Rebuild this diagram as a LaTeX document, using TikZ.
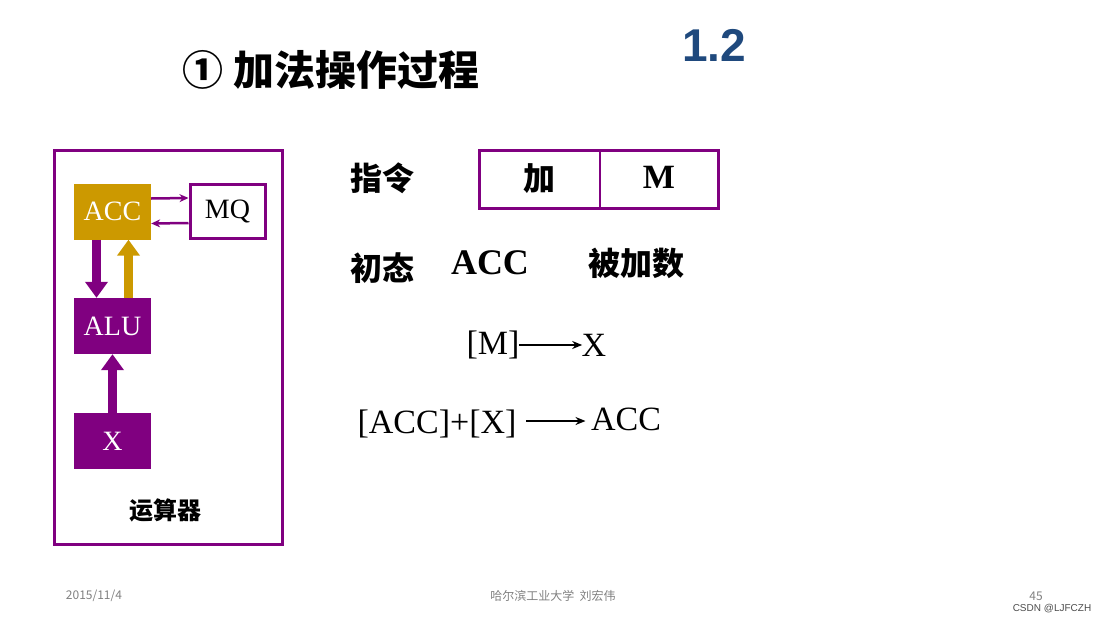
\documentclass[tikz,border=0pt]{standalone}
\usepackage{fontspec}
\setmainfont{Liberation Serif}
\newfontfamily\cjk{Noto Sans CJK SC}
\newfontfamily\sansf{Liberation Sans}
\usetikzlibrary{arrows.meta}
\definecolor{purp}{RGB}{128,0,128}
\definecolor{gold}{RGB}{204,153,0}
\definecolor{titleblue}{RGB}{31,73,125}
\tikzset{
  unit/.style={minimum width=77pt, minimum height=56pt, inner sep=0pt, font=\fontsize{28}{30}\selectfont, text=white},
  thin arrow/.style={purp, line width=2.5pt, -{Stealth[length=9pt,width=8pt]}},
  fat arrow/.style={line width=9pt, -{Triangle[length=16pt,width=22pt]}},
  big/.style={font=\fontsize{34}{36}\selectfont},
  han/.style={font=\cjk\bfseries\fontsize{32}{34}\selectfont},
  foot/.style={font=\cjk\fontsize{12}{14}\selectfont, text=gray}
}
\begin{document}
\begin{tikzpicture}[x=1pt, y=-1pt]
  \useasboundingbox (0,0) rectangle (1107,623);
  % title
  \node (title) at (331,70) [font=\cjk\bfseries\fontsize{41}{43}\selectfont] {① 加法操作过程};
  \node (num) at (714,45) [font=\sansf\bfseries\fontsize{46}{48}\selectfont, text=titleblue] {1.2};
  % the unit
  \draw[purp, line width=3pt] (54,150) rectangle (282,544);
  \node (acc) at (112.5,211.5) [unit, fill=gold] {ACC};
  \node (mq) at (227.5,211) [unit, minimum width=75pt, minimum height=54pt, draw=purp, line width=3pt, fill=white, text=black] {MQ};
  \node (alu) at (112.5,326) [unit, fill=purp] {ALU};
  \node (x) at (112.5,441) [unit, fill=purp] {X};
  \node (calc) at (165,510) [font=\cjk\bfseries\fontsize{24}{26}\selectfont] {运算器};
  \draw[thin arrow] ([yshift=13pt]acc.east) -- ([yshift=13pt]mq.west);
  \draw[thin arrow] ([yshift=-12pt]mq.west) -- ([yshift=-12pt]acc.east);
  \draw[fat arrow, purp] ([xshift=-16pt]acc.south) -- ([xshift=-16pt]alu.north);
  \draw[fat arrow, gold] ([xshift=16pt]alu.north) -- ([xshift=16pt]acc.south);
  \draw[fat arrow, purp] (x.north) -- (alu.south);
  % instruction
  \node (zl) at (382,178) [han] {指令};
  \draw[purp, line width=3pt] (479,150) rectangle (718,208);
  \draw[purp, line width=2pt] (600,150) -- (600,208);
  \node (op) at (539.5,179) [han] {加};
  \node (addr) at (659,177) [big, font=\bfseries\fontsize{34}{36}\selectfont] {M};
  \node (ct) at (382,268) [han] {初态};
  \node (accv) at (490,263) [font=\bfseries\fontsize{36}{38}\selectfont] {ACC};
  \node (bjs) at (636,263) [han] {被加数};
  % transfers
  \node (m) at (493,345) [big] {[M]};
  \node (xr) at (594,345) [big] {X};
  \draw[line width=2pt, -{Stealth[length=10pt,width=8pt]}] ([xshift=-4pt]m.east) -- ([xshift=4pt]xr.west);
  \node (sum) at (437,424) [big] {[ACC]+[X]};
  \node (accr) at (626,419) [big] {ACC};
  \draw[line width=2pt, -{Stealth[length=10pt,width=8pt]}] ([xshift=6pt,yshift=3pt]sum.east) -- ([xshift=-2pt,yshift=-2pt]accr.west);
  % footer
  \node (date) at (94,596) [foot] {2015/11/4};
  \node (org) at (553,596) [foot] {哈尔滨工业大学~~刘宏伟};
  \node (page) at (1036,596) [foot] {45};
  \node (csdn) at (1052,609) [foot, font=\sansf\fontsize{10}{12}\selectfont, text=black!70] {CSDN @LJFCZH};
\end{tikzpicture}
\end{document}
